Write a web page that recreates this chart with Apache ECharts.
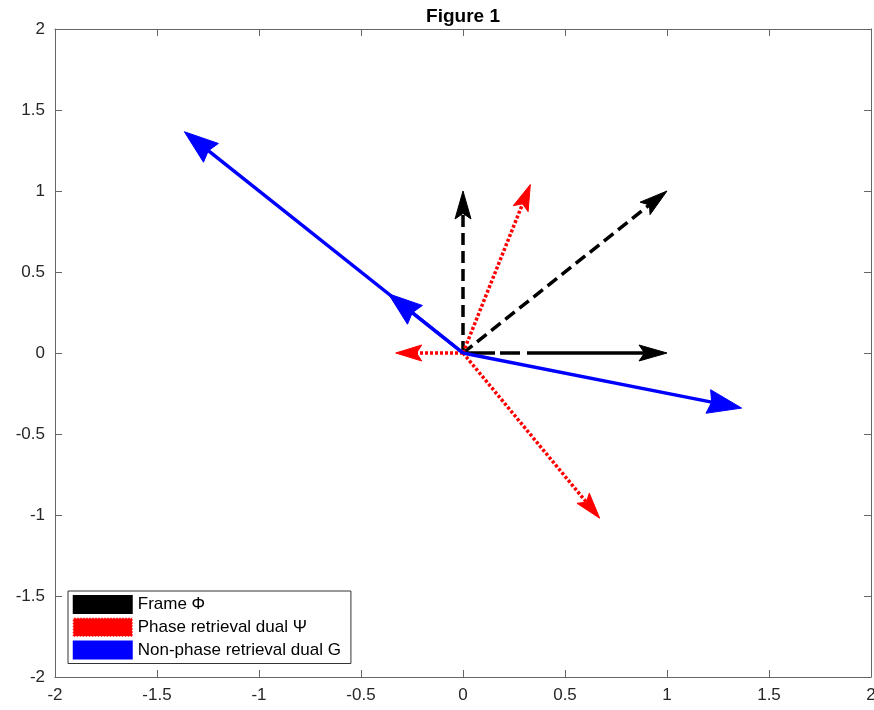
<!DOCTYPE html>
<html><head><meta charset="utf-8">
<script src="https://cdn.jsdelivr.net/npm/echarts@6/dist/echarts.min.js"></script>
<style>html,body{margin:0;padding:0;background:#fff}#c{width:874px;height:710px}</style>
</head><body><div id="c"></div>
<script>
const tickValues = [-2, -1.5, -1, -0.5, 0, 0.5, 1, 1.5, 2];
const seriesNames = ['Frame \u03A6', 'Phase retrieval dual \u03A8', 'Non-phase retrieval dual G'];
const frameX = [1, 0, 1];
const frameY = [0, 1, 1];
const psiX = [-0.33, 0.33, 0.67];
const psiY = [0, 1.04, -1.02];
const gX = [1.366, -1.366, -0.366];
const gY = [-0.34, 1.366, 0.366];

function pts(xs, ys) { return xs.map((x, i) => [x, ys[i]]); }

// arrow drawing through the cartesian scales (api.coord)
function makeRender(color, width, dash, headLen, headHalf, notch, dashOverride) {
  return function (params, api) {
    const x = api.value(0), y = api.value(1);
    const p0 = api.coord([0, 0]), p1 = api.coord([x, y]);
    const dx = p1[0] - p0[0], dy = p1[1] - p0[1];
    const L = Math.hypot(dx, dy) || 1;
    const ux = dx / L, uy = dy / L, nx = -uy, ny = ux;
    const bx = p1[0] - ux * headLen, by = p1[1] - uy * headLen;
    const mx = p1[0] - ux * headLen * notch, my = p1[1] - uy * headLen * notch;
    const poly = [[p1[0], p1[1]], [bx + nx * headHalf, by + ny * headHalf], [mx, my], [bx - nx * headHalf, by - ny * headHalf]];
    const ld = (dashOverride && dashOverride[params.dataIndex]) || dash;
    return {
      type: 'group',
      children: [
        { type: 'line', shape: { x1: p0[0], y1: p0[1], x2: mx, y2: my },
          style: { stroke: color, lineWidth: width, lineDash: ld, fill: null } },
        { type: 'polygon', shape: { points: poly }, style: { fill: color, stroke: color, lineWidth: 1 } }
      ]
    };
  };
}

const axisColor = '#666';
const font = 'Liberation Sans, Arial, Helvetica, sans-serif';
const chart = echarts.init(document.getElementById('c'), null, { renderer: 'canvas' });
function ax(pos, show, margin) {
  return {
    type: 'value', min: tickValues[0], max: tickValues[tickValues.length - 1], interval: 0.5, position: pos,
    axisLine: { show: true, onZero: false, lineStyle: { color: axisColor, width: 1 } },
    axisTick: { show: true, inside: true, length: 7, lineStyle: { color: axisColor } },
    axisLabel: { show: show, color: '#262626', fontSize: 17, fontFamily: font, margin: margin,
      showMinLabel: true, showMaxLabel: true, hideOverlap: false,
      formatter: v => String(v) },
    splitLine: { show: false }
  };
}
chart.setOption({
  animation: false,
  title: { text: 'Figure 1', left: 458, top: 2, textAlign: 'center',
    textStyle: { fontSize: 19, fontWeight: 'bold', fontFamily: font, color: '#000' } },
  grid: { left: 55, right: 3, top: 29, bottom: 33, containLabel: false, outerBoundsMode: 'none' },
  xAxis: [ax('bottom', true, 10), ax('top', false, 8)],
  yAxis: [ax('left', true, 10), ax('right', false, 8)],
  legend: {
    orient: 'vertical', left: 68, top: 591,
    backgroundColor: '#fff', borderColor: '#333', borderWidth: 1,
    padding: [4, 10, 4, 4], itemGap: 3, itemWidth: 60, itemHeight: 19,
    icon: 'rect',
    textStyle: { fontSize: 17, fontFamily: font, color: '#000' },
    data: [
      { name: seriesNames[0], itemStyle: { color: '#000', borderWidth: 0 } },
      { name: seriesNames[1], itemStyle: { color: '#f00', borderColor: '#fff', borderWidth: 1.5, borderType: 'dotted' } },
      { name: seriesNames[2], itemStyle: { color: '#00f', borderWidth: 0 } }
    ]
  },
  series: [
    { type: 'custom', name: seriesNames[0], coordinateSystem: 'cartesian2d',
      itemStyle: { color: '#000' }, encode: { x: 0, y: 1 }, clip: false,
      renderItem: makeRender('#000', 3.5, [12, 6], 28, 8, 0.8, [[32, 5, 20, 7, 400, 1]]),
      data: pts(frameX, frameY) },
    { type: 'custom', name: seriesNames[1], coordinateSystem: 'cartesian2d',
      itemStyle: { color: '#f00' }, encode: { x: 0, y: 1 }, clip: false,
      renderItem: makeRender('#f00', 3.5, [3, 2], 26, 8, 0.8, null),
      data: pts(psiX, psiY) },
    { type: 'custom', name: seriesNames[2], coordinateSystem: 'cartesian2d',
      itemStyle: { color: '#00f' }, encode: { x: 0, y: 1 }, clip: false,
      renderItem: makeRender('#00f', 3.5, null, 34, 12, 0.9, null),
      data: pts(gX, gY) }
  ]
});
</script></body></html>
